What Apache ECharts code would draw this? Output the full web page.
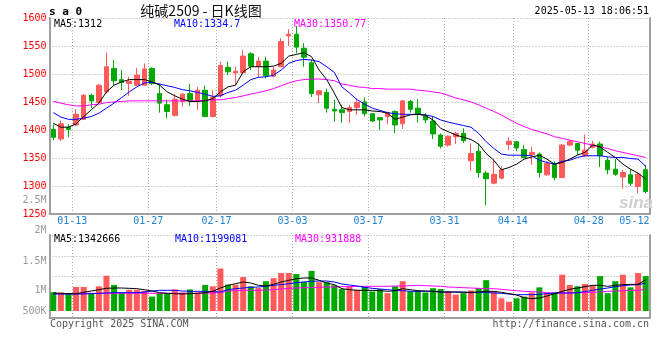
<!DOCTYPE html>
<html><head><meta charset="utf-8">
<script src="https://cdn.jsdelivr.net/npm/echarts@6/dist/echarts.min.js"></script>
<style>html,body{margin:0;padding:0;background:#fff}#c{width:660px;height:360px}</style>
</head><body><div id="c"></div>
<script>
// ---------- DATA ----------
const dates = ['01-09','01-10','01-13','01-14','01-15','01-16','01-17','01-20','01-21','01-22','01-23','01-24','01-27',
'02-05','02-06','02-07','02-10','02-11','02-12','02-13','02-14','02-17','02-18','02-19','02-20','02-21','02-24','02-25','02-26','02-27','02-28',
'03-03','03-04','03-05','03-06','03-07','03-10','03-11','03-12','03-13','03-14','03-17','03-18','03-19','03-20','03-21','03-24','03-25','03-26','03-27','03-28','03-31',
'04-01','04-02','04-03','04-07','04-08','04-09','04-10','04-11','04-14','04-15','04-16','04-17','04-18','04-21','04-22','04-23','04-24','04-25','04-28','04-29','04-30',
'05-06','05-07','05-08','05-09','05-12','05-13'];

// [open, close, low, high]
const ohlc = [
[1401,1387,1382,1410],[1384,1411,1380,1417],[1405,1401,1387,1410],[1409,1428,1407,1437],[1419,1462,1418,1464],
[1462,1452,1439,1465],[1449,1480,1448,1482],[1468,1513,1465,1538],[1510,1488,1480,1525],[1490,1485,1471,1507],
[1483,1487,1461,1495],[1480,1498,1479,1511],[1480,1509,1479,1519],[1510,1483,1480,1512],[1465,1448,1431,1483],
[1445,1433,1421,1454],[1426,1455,1424,1464],[1451,1464,1442,1466],[1465,1452,1443,1482],[1452,1471,1436,1477],
[1471,1424,1423,1479],[1424,1458,1423,1471],[1461,1515,1458,1522],[1512,1504,1498,1522],[1502,1505,1480,1513],
[1502,1532,1501,1543],[1536,1514,1507,1539],[1514,1523,1494,1531],[1523,1497,1492,1531],[1496,1507,1494,1513],
[1513,1558,1512,1564],[1568,1571,1550,1580],[1571,1548,1537,1586],[1546,1530,1513,1555],[1520,1465,1459,1526],
[1463,1470,1448,1471],[1467,1439,1431,1474],[1437,1434,1415,1454],
[1436,1431,1413,1445],[1433,1440,1413,1445],[1440,1449,1427,1456],[1450,1429,1424,1458],[1429,1416,1415,1430],
[1422,1418,1400,1423],[1424,1431,1410,1433],[1433,1409,1395,1435],[1411,1452,1402,1454],[1451,1437,1431,1454],
[1439,1428,1413,1455],[1425,1418,1412,1430],[1416,1393,1384,1424],[1391,1371,1367,1394],[1373,1389,1370,1390],
[1388,1394,1375,1397],[1394,1381,1377,1403],[1345,1358,1327,1376],[1362,1324,1315,1376],[1323,1313,1266,1327],
[1305,1321,1303,1348],[1314,1329,1312,1335],[1374,1380,1364,1387],[1379,1368,1362,1380],[1365,1351,1350,1373],
[1356,1360,1338,1370],[1357,1324,1315,1360],[1320,1340,1318,1344],[1339,1315,1310,1344],[1315,1373,1314,1375],
[1373,1380,1371,1383],[1376,1364,1355,1377],[1354,1364,1352,1392],[1369,1375,1367,1381],[1375,1354,1334,1379],
[1346,1329,1321,1352],[1330,1321,1318,1348],[1316,1324,1295,1329],[1320,1305,1300,1330],[1299,1321,1287,1324],
[1329,1290,1287,1338]];

const ma5 = [1412,1405,1405,1411,1424,1436,1448,1468,1480,1486,1490,1490,1490,1486,1480,1468,1461,1455,1451,1451,
1452,1456,1468,1477,1480,1504,1513,1513,1513,1514,1519,1532,1535,1538,1531,1507,1490,1466,
1440,1436,1436,1436,1434,1433,1430,1419,1423,1427,1428,1426,1418,1403,1397,1391,1387,1383,1375,1358,1346,1329,
1333,1339,1348,1352,1355,1348,1339,1342,1348,1355,1360,1373,1370,1360,1351,1339,1330,1323,1312];
const ma10 = [1431,1423,1419,1419,1421,1424,1430,1439,1448,1458,1468,1477,1484,1485,1482,1479,1476,1472,1470,1467,
1464,1460,1461,1467,1471,1480,1490,1494,1495,1498,1507,1519,1524,1526,1525,1522,1513,1503,
1477,1466,1454,1446,1439,1435,1431,1429,1428,1428,1428,1427,1424,1418,1414,1411,1408,1405,1394,1379,1367,1357,
1355,1355,1355,1354,1346,1342,1339,1344,1346,1351,1354,1354,1354,1352,1351,1351,1349,1348,1335];
const ma30 = [1451,1448,1445,1443,1443,1445,1446,1449,1450,1451,1452,1452,1452,1452,1452,1452,1452,1452,1452,1452,
1453,1454,1454,1456,1458,1461,1464,1467,1470,1474,1479,1484,1488,1490,1491,1491,1490,1488,
1482,1480,1477,1476,1474,1474,1473,1473,1473,1473,1471,1470,1468,1466,1462,1457,1454,1450,1445,1439,1433,1427,
1419,1412,1406,1401,1397,1393,1388,1385,1382,1379,1376,1373,1370,1367,1363,1360,1357,1354,1351];

const volume = [810000,796000,766000,1031000,1031000,737000,1061000,1517000,1120000,796000,913000,913000,869000,619000,
766000,766000,928000,796000,928000,796000,1120000,1061000,1827000,1134000,1134000,1459000,1061000,987000,1282000,
1414000,1635000,1635000,1591000,1252000,1724000,1238000,1238000,1105000,
943000,1061000,913000,1061000,840000,943000,766000,1061000,1282000,840000,869000,796000,980000,943000,840000,707000,
766000,884000,987000,1326000,840000,545000,398000,545000,619000,796000,1017000,766000,796000,1562000,1120000,1061000,
1164000,1105000,1503000,766000,1282000,1562000,1017000,1635000,1503000];

// volume moving averages, in thousands
const volMa5K = [774,760,745,745,803,860,917,975,989,989,975,960,917,860,788,760,745,731,745,760,788,846,989,
1104,1175,1247,1204,1104,1075,1147,1247,1319,1390,1419,1419,1319,1204,1132,
960,917,889,889,889,874,846,874,960,917,874,860,846,
817,817,817,803,803,817,846,846,803,745,688,573,530,559,645,745,846,932,989,1046,1104,1104,1061,1104,1132,1147,1147,1343];
const volMa10K = [731,731,731,731,731,745,760,774,788,788,788,788,817,860,889,889,889,860,846,846,846,831,817,
917,960,989,1018,1032,1061,1104,1132,1175,1218,1247,1276,1290,1290,1247,
1161,1118,1075,1018,975,946,917,889,874,846,846,846,846,
817,817,817,817,788,803,803,774,760,731,702,702,702,717,745,774,774,774,788,831,889,946,989,1046,1089,1118,1132,1199];
const volMa30K = [745,745,745,745,760,760,760,760,760,760,760,760,760,760,760,760,760,760,760,760,774,774,788,
860,874,889,889,889,903,917,946,975,989,1003,1003,1018,1032,1032,
1046,1046,1061,1061,1061,1061,1061,1075,1075,1089,1104,1089,1075,
1061,1032,1018,1003,989,975,960,960,932,903,874,846,831,817,788,774,774,774,788,788,803,817,846,860,874,889,889,932];

const labelDates = ['01-13','01-27','02-17','03-03','03-17','03-31','04-14','04-28','05-12'];
const gridDates  = ['01-13','01-27','02-17','03-03','03-17','03-31','04-14','04-28'];
const priceMin = 1250, priceMax = 1600, priceStep = 50;
const volTickLabels = ['2M','1.5M','1M','500K'];
const priceExtraLabel = '2.5M';
const mainLegend = ['MA5:1312','MA10:1334.7','MA30:1350.77'];
const volLegend  = ['MA5:1342666','MA10:1199081','MA30:931888'];
const symbolText = 's a 0';
const titleText = '纯碱2509 - 日K线图';
const stampText = '2025-05-13 18:06:51';
const footerLeft = 'Copyright 2025 SINA.COM';
const footerRight = 'http://finance.sina.com.cn';

// ---------- LAYOUT / STYLE ----------
const RED = '#ff5a5a', GREEN = '#00a800';
const MA_COLORS = ['#000000', '#0000ff', '#ff00ff'];
const MONO = '"DejaVu Sans Mono","Liberation Mono",monospace';
const AXIS_GRAY = '#a0a0a0';
const GRID_LINE = {color: '#aaaaaa', width: 1, type: [1, 2]};
const PX_PER_VOL = 43000;          // volume units per pixel
const VOL_H = 83, VOL_BASE = 7;    // volume panel height and baseline offset (px)

const bounds = Array.from({length: dates.length + 1}, (_, i) => 'b' + i);
const labelAt = new Map();
labelDates.forEach(d => labelAt.set(dates.indexOf(d) + 1, d));
const gridAt = new Set(gridDates.map(d => dates.indexOf(d) + 1));
const lastLabelB = dates.indexOf(labelDates[labelDates.length - 1]) + 1;

const volData = volume.map((v, i) => ({
  value: v,
  itemStyle: {color: ohlc[i][1] >= ohlc[i][0] ? RED : GREEN}
}));

function txt(x, y, text, color, size, align, extra) {
  extra = extra || {};
  const font = (extra.style || '') + ' ' + (extra.weight || 'normal') + ' ' + size + 'px ' + (extra.family || MONO);
  return {type: 'text', x: x, y: y, z: 100, silent: true,
    style: {text: text, fill: color, font: font, textAlign: align, align: align,
            textVerticalAlign: 'middle', verticalAlign: 'middle'}};
}

const line = (name, data, color, xi, yi) => ({
  name, type: 'line', data, xAxisIndex: xi, yAxisIndex: yi, showSymbol: false, symbol: 'none',
  lineStyle: {color, width: 1}, itemStyle: {color}, z: 5, silent: true, animation: false
});

const chart = echarts.init(document.getElementById('c'), null, {renderer: 'canvas', width: 660, height: 360});
chart.setOption({
  animation: false,
  backgroundColor: '#ffffff',
  textStyle: {fontFamily: MONO},
  grid: [
    {left: 49.5, top: 18, width: 600, height: 196, containLabel: false, outerBoundsMode: 'none'},
    {left: 49.5, top: 235, width: 600, height: VOL_H, containLabel: false, outerBoundsMode: 'none'}
  ],
  xAxis: [
    {type: 'category', gridIndex: 0, data: dates, boundaryGap: true,
     axisLine: {show: true, onZero: false, lineStyle: {color: AXIS_GRAY, width: 2}},
     axisTick: {show: false}, axisLabel: {show: false}, splitLine: {show: false}},
    {type: 'category', gridIndex: 0, data: bounds, boundaryGap: false, position: 'bottom',
     axisLine: {show: false, onZero: false}, axisTick: {show: false},
     axisLabel: {show: true, interval: (i) => labelAt.has(i), margin: 2,
       formatter: (v, i) => i === lastLabelB ? '{e|' + labelAt.get(i) + '}' : '{n|' + labelAt.get(i) + '}',
       rich: {n: {color: '#1f82d4', fontSize: 10, fontFamily: MONO, lineHeight: 10},
              e: {color: '#1f82d4', fontSize: 10, fontFamily: MONO, lineHeight: 10, padding: [0, 15, 0, 0]}}},
     splitLine: {show: true, interval: (i) => gridAt.has(i), lineStyle: GRID_LINE}},
    {type: 'category', gridIndex: 1, data: dates, boundaryGap: true,
     axisLine: {show: true, onZero: false, lineStyle: {color: AXIS_GRAY, width: 2}},
     axisTick: {show: false}, axisLabel: {show: false}, splitLine: {show: false}},
    {type: 'category', gridIndex: 1, data: bounds, boundaryGap: false, position: 'bottom',
     axisLine: {show: false, onZero: false}, axisTick: {show: false}, axisLabel: {show: false},
     splitLine: {show: true, interval: (i) => gridAt.has(i), lineStyle: GRID_LINE}}
  ],
  yAxis: [
    {type: 'value', gridIndex: 0, min: priceMin, max: priceMax, interval: priceStep, position: 'left',
     axisLine: {show: true, onZero: false, lineStyle: {color: AXIS_GRAY, width: 2}}, axisTick: {show: false},
     axisLabel: {color: '#ff0000', fontSize: 10, fontFamily: MONO, margin: 3, padding: [0, 0, 5, 0],
                 formatter: (v) => String(v)},
     splitLine: {show: true, lineStyle: GRID_LINE}},
    {type: 'value', gridIndex: 0, min: priceMin, max: priceMax, position: 'right',
     axisLine: {show: true, onZero: false, lineStyle: {color: AXIS_GRAY, width: 2}}, axisTick: {show: false},
     axisLabel: {show: false}, splitLine: {show: false}},
    {type: 'value', gridIndex: 1, min: -VOL_BASE * PX_PER_VOL, max: (VOL_H - VOL_BASE) * PX_PER_VOL, position: 'left',
     axisLine: {show: true, onZero: false, lineStyle: {color: AXIS_GRAY, width: 2}}, axisTick: {show: false},
     axisLabel: {show: false}, splitLine: {show: false}},
    {type: 'value', gridIndex: 1, min: 0, max: 4, interval: 1, position: 'right',
     axisLine: {show: true, onZero: false, lineStyle: {color: AXIS_GRAY, width: 2}}, axisTick: {show: false},
     axisLabel: {show: false}, splitLine: {show: true, lineStyle: GRID_LINE}}
  ],
  series: [
    {name: 'K', type: 'candlestick', xAxisIndex: 0, yAxisIndex: 0, data: ohlc.map(d => [d[0], d[1], d[2], d[3]]),
     barWidth: 5, silent: true,
     itemStyle: {color: RED, color0: GREEN, borderColor: RED, borderColor0: GREEN, borderWidth: 1}},
    line('MA30', ma30, MA_COLORS[2], 0, 0),
    line('MA10', ma10, MA_COLORS[1], 0, 0),
    line('MA5', ma5, MA_COLORS[0], 0, 0),
    {name: 'VOL', type: 'bar', xAxisIndex: 2, yAxisIndex: 2, data: volData, barWidth: 6, silent: true},
    line('VMA30', volMa30K.map(v => v * 1000), MA_COLORS[2], 2, 2),
    line('VMA10', volMa10K.map(v => v * 1000), MA_COLORS[1], 2, 2),
    line('VMA5', volMa5K.map(v => v * 1000), MA_COLORS[0], 2, 2)
  ],
  graphic: [
    txt(49, 12, symbolText, '#000', 11, 'left', {weight: 'bold'}),
    txt(201, 11, titleText, '#111', 14, 'center', {family: '"Noto Sans CJK SC",sans-serif'}),
    txt(649, 11, stampText, '#000', 10, 'right'),
    txt(54, 24, mainLegend[0], MA_COLORS[0], 10, 'left'),
    txt(174, 24, mainLegend[1], MA_COLORS[1], 10, 'left'),
    txt(294, 24, mainLegend[2], MA_COLORS[2], 10, 'left'),
    txt(46.5, 200, priceExtraLabel, '#999', 10, 'right'),
    txt(46.5, 230, volTickLabels[0], '#999', 10, 'right'),
    txt(46.5, 261, volTickLabels[1], '#999', 10, 'right'),
    txt(46.5, 290.5, volTickLabels[2], '#999', 10, 'right'),
    txt(46.5, 311, volTickLabels[3], '#999', 10, 'right'),
    txt(54, 239, volLegend[0], MA_COLORS[0], 10, 'left'),
    txt(175, 239, volLegend[1], MA_COLORS[1], 10, 'left'),
    txt(295, 239, volLegend[2], MA_COLORS[2], 10, 'left'),
    txt(50, 324, footerLeft, '#555', 10, 'left'),
    txt(649, 324, footerRight, '#555', 10, 'right'),
    txt(636, 203, 'sina', '#cfcfcf', 17, 'center', {weight: 'bold', style: 'italic', family: '"Liberation Sans",Arial,sans-serif'})
  ]
});
</script></body></html>
